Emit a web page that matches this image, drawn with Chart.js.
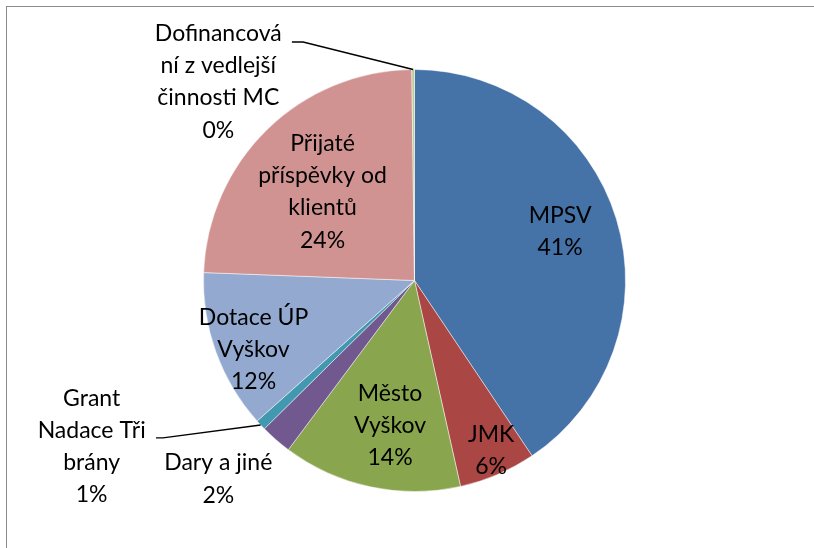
<!DOCTYPE html>
<html>
<head>
<meta charset="utf-8">
<script src="https://cdn.jsdelivr.net/npm/chart.js@4.4.1/dist/chart.umd.min.js"></script>
<style>
  html, body { margin: 0; padding: 0; background: #fff; overflow: hidden; }
  #wrap { position: relative; width: 814px; height: 548px; }
  #frame { position: absolute; left: 6px; top: 6px; width: 900px; height: 700px; border: 1px solid #8a8a8a; box-sizing: border-box; }
  #myChart { position: absolute; left: 0; top: 0; }
</style>
</head>
<body>
<div id="wrap">
  <div id="frame"></div>
  <canvas id="myChart" width="814" height="548"></canvas>
</div>
<script>
// category names, already wrapped the way the labels show them
var categories = [
    ["MPSV"],
    ["JMK"],
    ["Město", "Vyškov"],
    ["Dary a jiné"],
    ["Grant", "Nadace Tři", "brány"],
    ["Dotace ÚP", "Vyškov"],
    ["Přijaté", "příspěvky od", "klientů"],
    ["Dofinancová", "ní z vedlejší", "činnosti MC"]
];
// share of the budget, in percent
var values = [40.6, 5.9, 13.7, 2.4, 0.8, 12.2, 24.2, 0.2];
var sliceColors = ["#4572A7", "#AA4643", "#89A54E", "#71588F", "#4198AF", "#93A9CF", "#D19392", "#B9CD96"];

// where each label sits, in units of the pie radius from its centre
var labelSpots = [[0.690, -0.231], [0.363, 0.806], [-0.116, 0.687], [-0.930, 0.941],
                  [-1.530, 0.787], [-0.763, 0.327], [-0.436, -0.420], [-0.930, -0.941]];
// leader lines for the labels outside the pie: start and knee
var leaders = { 4: [[-1.225, 0.746], [-1.192, 0.746]], 7: [[-0.581, -1.130], [-0.528, -1.130]] };

var total = values.reduce(function(a, b){ return a + b; }, 0);

var pieLabels = {
    id: "pieLabels",
    afterDatasetsDraw: function(chart){
        var ctx = chart.ctx;
        var arcs = chart.getDatasetMeta(0).data;
        ctx.save();
        ctx.font = "23px Lato";
        ctx.fillStyle = "#000";
        ctx.textAlign = "center";
        ctx.textBaseline = "middle";
        var lineH = 32.2;
        arcs.forEach(function(arc, i){
            var r = arc.outerRadius;
            var cx = arc.x, cy = arc.y;
            if (leaders[i]) {
                var mid = (arc.startAngle + arc.endAngle) / 2;
                ctx.beginPath();
                ctx.strokeStyle = "#000";
                ctx.lineWidth = 1.4;
                ctx.moveTo(cx + leaders[i][0][0] * r, cy + leaders[i][0][1] * r);
                ctx.lineTo(cx + leaders[i][1][0] * r, cy + leaders[i][1][1] * r);
                ctx.lineTo(cx + Math.cos(mid) * r, cy + Math.sin(mid) * r);
                ctx.stroke();
            }
            var lines = categories[i].concat([Math.round(values[i] / total * 100) + "%"]);
            var x = cx + labelSpots[i][0] * r;
            var y0 = cy + labelSpots[i][1] * r - (lines.length - 1) * lineH / 2;
            lines.forEach(function(t, k){
                ctx.fillText(t, x, y0 + k * lineH);
            });
        });
        ctx.restore();
    }
};

new Chart("myChart", {
    type: "pie",
    data: {
        labels: categories.map(function(c){ return c.join(" "); }),
        datasets: [{
            data: values,
            backgroundColor: sliceColors,
            borderColor: "rgba(255,255,255,0.6)",
            borderWidth: 0.8
        }]
    },
    options: {
        responsive: false,
        animation: false,
        radius: 211,
        layout: { padding: { left: 15, top: 13, right: 0, bottom: 0 } },
        plugins: {
            legend: { display: false },
            tooltip: { enabled: false }
        }
    },
    plugins: [pieLabels]
});
</script>
</body>
</html>
